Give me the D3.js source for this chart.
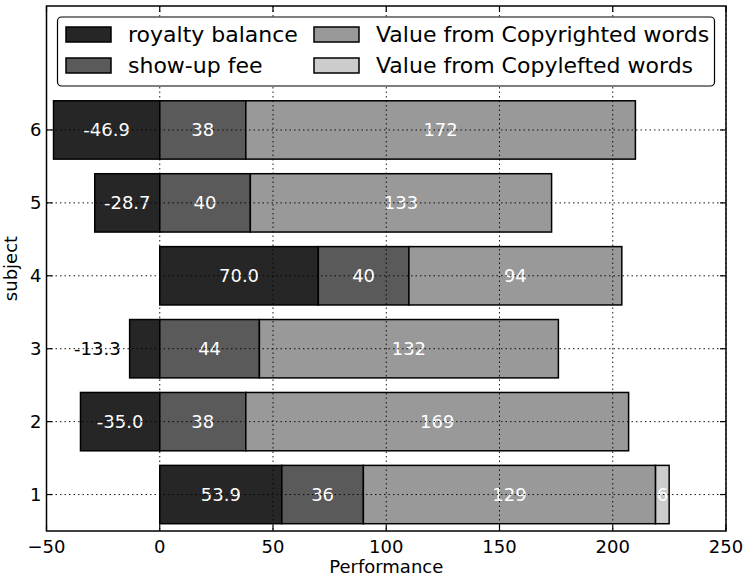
<!DOCTYPE html>
<html>
  <head>
    <meta charset="utf-8">
    <script src="https://d3js.org/d3.v7.min.js"></script>
    <title>Performance by subject</title>
    <style>
      body {
        margin: 0px;
        background: #fff;
      }
      text {
        font-family: "DejaVu Sans", sans-serif;
      }
      .tick-label {
        font-size: 18px;
        fill: #000;
      }
      .axis-label {
        font-size: 18px;
        fill: #000;
      }
      .legend-label {
        font-size: 22px;
        fill: #000;
      }
      .bar-label {
        font-size: 18px;
      }
    </style>
  </head>
  <body>
    <svg width="746" height="577"></svg>
    <script>
      const subjects = [1, 2, 3, 4, 5, 6];
      const royalty = [53.9, -35.0, -13.3, 70.0, -28.7, -46.9];
      const showup = [36, 38, 44, 40, 40, 38];
      const copyrighted = [129, 169, 132, 94, 133, 172];
      const copylefted = [6, 0, 0, 0, 0, 0];
      const xTicks = [-50, 0, 50, 100, 150, 200, 250];

      const seriesNames = ['royalty balance', 'show-up fee', 'Value from Copyrighted words', 'Value from Copylefted words'];
      const seriesColors = ['#262626', '#5a5a5a', '#999999', '#cccccc'];

      const plot = { left: 46.5, right: 726, top: 6, bottom: 531 };

      const svg = d3.select('svg');

      const xScale = d3.scaleLinear()
        .domain([-50, 250])
        .range([plot.left, plot.right]);
      const yScale = d3.scaleLinear()
        .domain([0.5, 7.7])
        .range([plot.bottom, plot.top]);
      const barH = 0.8;

      // build segments
      const segments = [];
      subjects.forEach((s, i) => {
        const r = royalty[i];
        segments.push({ s, k: 0, x0: Math.min(0, r), x1: Math.max(0, r), v: r, text: r.toFixed(1) });
        let pos = Math.max(0, r);
        [showup, copyrighted, copylefted].forEach((arr, j) => {
          const v = arr[i];
          if (v <= 0) return;
          segments.push({ s, k: j + 1, x0: pos, x1: pos + v, v, text: String(Math.round(v)) });
          pos += v;
        });
      });

      const g = svg.append('g');

      g.selectAll('rect.bar')
        .data(segments)
        .enter().append('rect')
          .attr('class', 'bar')
          .attr('x', d => xScale(d.x0))
          .attr('width', d => xScale(d.x1) - xScale(d.x0))
          .attr('y', d => yScale(d.s + barH / 2))
          .attr('height', d => yScale(d.s - barH / 2) - yScale(d.s + barH / 2))
          .attr('fill', d => seriesColors[d.k])
          .attr('stroke', '#000')
          .attr('stroke-width', 1.5);

      // dotted grid above bars
      const grid = svg.append('g')
        .attr('stroke', '#000')
        .attr('stroke-width', 0.9)
        .attr('stroke-dasharray', '1.5,3');
      xTicks.forEach(t => {
        grid.append('line')
          .attr('x1', xScale(t)).attr('x2', xScale(t))
          .attr('y1', plot.top).attr('y2', plot.bottom);
      });
      subjects.forEach(s => {
        grid.append('line')
          .attr('x1', plot.left).attr('x2', plot.right)
          .attr('y1', yScale(s)).attr('y2', yScale(s));
      });

      // bar labels
      g.selectAll('text.bar-label')
        .data(segments)
        .enter().append('text')
          .attr('class', 'bar-label')
          .each(function(d) {
            const w = xScale(d.x1) - xScale(d.x0);
            const t = d3.select(this);
            if (w < 40 && d.k === 0) {
              t.attr('x', xScale(d.x0) - 9).attr('text-anchor', 'end').attr('fill', '#000');
            } else {
              t.attr('x', xScale((d.x0 + d.x1) / 2)).attr('text-anchor', 'middle').attr('fill', '#fff');
            }
          })
          .attr('y', d => yScale(d.s))
          .attr('dy', '0.36em')
          .text(d => d.text);

      // frame
      svg.append('rect')
        .attr('x', plot.left).attr('y', plot.top)
        .attr('width', plot.right - plot.left)
        .attr('height', plot.bottom - plot.top)
        .attr('fill', 'none')
        .attr('stroke', '#000')
        .attr('stroke-width', 1.5);

      // ticks (inward on all four sides)
      const ticks = svg.append('g').attr('stroke', '#000').attr('stroke-width', 1.2);
      xTicks.forEach(t => {
        const x = xScale(t);
        ticks.append('line').attr('x1', x).attr('x2', x).attr('y1', plot.bottom).attr('y2', plot.bottom - 6);
        ticks.append('line').attr('x1', x).attr('x2', x).attr('y1', plot.top).attr('y2', plot.top + 6);
      });
      subjects.forEach(s => {
        const y = yScale(s);
        ticks.append('line').attr('x1', plot.left).attr('x2', plot.left + 6).attr('y1', y).attr('y2', y);
        ticks.append('line').attr('x1', plot.right).attr('x2', plot.right - 6).attr('y1', y).attr('y2', y);
      });

      const fmt = d3.format('d');
      svg.selectAll('text.xt')
        .data(xTicks)
        .enter().append('text')
          .attr('class', 'tick-label')
          .attr('x', d => xScale(d))
          .attr('y', 553)
          .attr('text-anchor', 'middle')
          .text(d => fmt(d));

      svg.selectAll('text.yt')
        .data(subjects)
        .enter().append('text')
          .attr('class', 'tick-label')
          .attr('x', plot.left - 5)
          .attr('y', d => yScale(d))
          .attr('dy', '0.36em')
          .attr('text-anchor', 'end')
          .text(d => d);

      svg.append('text')
        .attr('class', 'axis-label')
        .attr('x', (plot.left + plot.right) / 2)
        .attr('y', 573)
        .attr('text-anchor', 'middle')
        .text('Performance');

      svg.append('text')
        .attr('class', 'axis-label')
        .attr('transform', `translate(17,${(plot.top + plot.bottom) / 2}) rotate(-90)`)
        .attr('text-anchor', 'middle')
        .text('subject');

      // legend
      const legend = svg.append('g');
      legend.append('rect')
        .attr('x', 57.5).attr('y', 17)
        .attr('width', 657).attr('height', 69)
        .attr('rx', 4).attr('ry', 4)
        .attr('fill', '#fff')
        .attr('stroke', '#000')
        .attr('stroke-width', 1.2);
      const colX = [66, 314];
      const rowY = [34.5, 65.5];
      seriesNames.forEach((name, i) => {
        const cx = colX[Math.floor(i / 2)];
        const cy = rowY[i % 2];
        legend.append('rect')
          .attr('x', cx).attr('y', cy - 7.5)
          .attr('width', 45).attr('height', 15)
          .attr('fill', seriesColors[i])
          .attr('stroke', '#000')
          .attr('stroke-width', 1.5);
        legend.append('text')
          .attr('class', 'legend-label')
          .attr('x', cx + 62)
          .attr('y', cy)
          .attr('dy', '0.36em')
          .text(name);
      });
    </script>
  </body>
</html>
